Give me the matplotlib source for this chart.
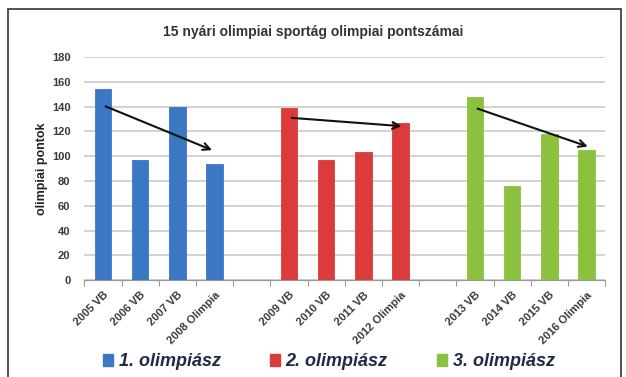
import matplotlib.pyplot as plt
import numpy as np
from matplotlib.patches import Patch, Rectangle

plt.rcParams['font.family'] = ['Liberation Sans', 'DejaVu Sans']

# data
labels_1 = ["2005 VB", "2006 VB", "2007 VB", "2008 Olimpia"]
labels_2 = ["2009 VB", "2010 VB", "2011 VB", "2012 Olimpia"]
labels_3 = ["2013 VB", "2014 VB", "2015 VB", "2016 Olimpia"]
values_1 = [154, 97, 140, 94]
values_2 = [139, 97, 103, 127]
values_3 = [148, 76, 118, 105]
series_names = ["1. olimpiász", "2. olimpiász", "3. olimpiász"]

# trend arrows: (x start, y start, x end, y end) in category/value units
arrows = [
    (0.0, 141, 3.0, 104),
    (0.0, 131, 3.1, 124),
    (0.0, 139, 3.1, 107),
]

colors = ["#3A78C4", "#DC3B3B", "#8CC13F"]
text_dark = "#3a3a3a"

fig = plt.figure(figsize=(6.26, 3.77), dpi=100)
ax = fig.add_axes([0.1348, 0.257, 0.832, 0.592])

groups = [(labels_1, values_1), (labels_2, values_2), (labels_3, values_3)]
tick_pos = []
tick_lab = []
bar_w = 0.44
for g, (labs, vals) in enumerate(groups):
    x = np.arange(len(labs)) + g * (len(labs) + 1)
    ax.bar(x, vals, width=bar_w, color=colors[g], edgecolor=colors[g], linewidth=0.6, zorder=3)
    tick_pos.extend(x)
    tick_lab.extend(labs)
    x0, y0, x1, y1 = arrows[g]
    ax.annotate("", xy=(x[0] + x1, y1), xytext=(x[0] + x0, y0),
                arrowprops=dict(arrowstyle="->,head_length=0.5,head_width=0.25",
                                color="#111111", lw=1.5), zorder=5)

n_slots = 3 * 4 + 2
ax.set_xlim(-0.5, n_slots - 0.5)
ax.set_ylim(0, 180)
ax.set_yticks(np.arange(0, 181, 20))
ax.set_xticks(tick_pos)
ax.set_xticklabels(tick_lab, rotation=45, ha="right", rotation_mode="anchor",
                   fontsize=8, fontweight="bold", color=text_dark)
ax.set_xticks(np.arange(-0.5, n_slots, 1), minor=True)
ax.tick_params(axis="x", which="major", length=0, pad=7)
ax.tick_params(axis="x", which="minor", length=4, color="#999999", width=0.8)
ax.tick_params(axis="y", length=0, labelsize=8, labelcolor=text_dark, pad=10)
for t in ax.get_yticklabels():
    t.set_fontweight("bold")

ax.grid(axis="y", color="#d2d2d2", linewidth=1.4, zorder=0)
for s in ["top", "right", "left"]:
    ax.spines[s].set_visible(False)
ax.spines["bottom"].set_color("#999999")
ax.spines["bottom"].set_linewidth(0.9)

ax.set_ylabel("olimpiai pontok", fontsize=9, fontweight="bold", color="#222222", labelpad=3)
fig.text(0.5, 0.915, "15 nyári olimpiai sportág olimpiai pontszámai",
         ha="center", va="center", fontsize=10, fontweight="bold", color="#333333")

handles = [Patch(facecolor=c, edgecolor=c, label=n) for c, n in zip(colors, series_names)]
leg = fig.legend(handles=handles, loc="lower center", bbox_to_anchor=(0.525, -0.025), ncol=3,
                 frameon=False, handlelength=0.6, handleheight=0.6, handletextpad=0.3,
                 columnspacing=2.7, prop=dict(size=13, weight="bold", style="italic"))
for t in leg.get_texts():
    t.set_color("#1f2a44")

# outer frame of the chart
fig.patches.append(Rectangle((0.012, -0.01), 0.98, 0.985, transform=fig.transFigure,
                             fill=False, edgecolor="#333333", linewidth=1.2))

fig.savefig("out.png", dpi=100)
